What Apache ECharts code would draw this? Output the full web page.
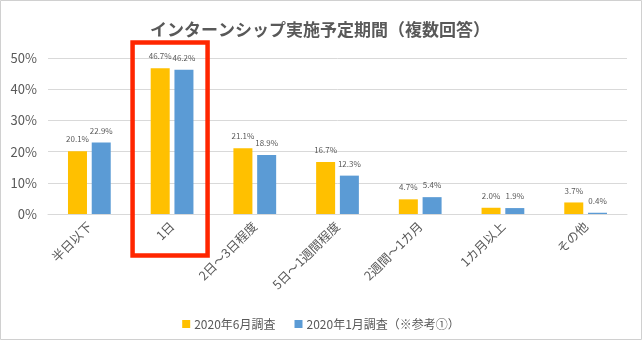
<!DOCTYPE html>
<html>
<head>
<meta charset="utf-8">
<script src="https://cdn.jsdelivr.net/npm/echarts@6/dist/echarts.min.js"></script>
<style>
html,body{margin:0;padding:0;background:#fff;}
#c{width:642px;height:340px;}
</style>
</head>
<body>
<div id="c"></div>
<script>
var categories = ['半日以下', '1日', '2日～3日程度', '5日～1週間程度', '2週間～1カ月', '1カ月以上', 'その他'];
var june2020 = [20.1, 46.7, 21.1, 16.7, 4.7, 2.0, 3.7];
var jan2020 = [22.9, 46.2, 18.9, 12.3, 5.4, 1.9, 0.4];
var seriesNames = ['2020年6月調査', '2020年1月調査（※参考①）'];
var highlightCategory = '1日';

var FONT = '"Noto Sans CJK JP", "Noto Sans", sans-serif';
var TXT = '#595959';

var chart = echarts.init(document.getElementById('c'), null, {renderer: 'canvas'});

function labelCfg() {
  return {
    show: true,
    position: 'top',
    distance: 8,
    fontSize: 8,
    color: TXT,
    fontFamily: FONT,
    formatter: function (p) { return p.value.toFixed(1) + '%'; }
  };
}

chart.setOption({
  animation: false,
  backgroundColor: '#fff',
  title: {
    text: 'インターンシップ実施予定期間（複数回答）',
    left: 315,
    textAlign: 'center',
    top: 16,
    textStyle: {fontSize: 17, fontWeight: 'bold', color: TXT, fontFamily: FONT}
  },
  legend: {
    data: seriesNames,
    left: 'center',
    top: 313,
    itemWidth: 8,
    itemHeight: 8,
    itemGap: 19,
    icon: 'rect',
    textStyle: {fontSize: 12, color: TXT, fontFamily: FONT, padding: [0, 0, 0, -1]}
  },
  grid: {left: 48, right: 15, top: 58, bottom: 126, containLabel: false},
  xAxis: {
    type: 'category',
    data: categories,
    axisLine: {show: true, lineStyle: {color: '#d9d9d9'}},
    axisTick: {show: false},
    axisLabel: {rotate: 45, fontSize: 12.5, color: TXT, fontFamily: FONT, margin: 10, interval: 0}
  },
  yAxis: {
    type: 'value',
    min: 0,
    max: 50,
    interval: 10,
    axisLine: {show: false},
    axisTick: {show: false},
    splitLine: {lineStyle: {color: '#d9d9d9', width: 1}},
    axisLabel: {formatter: '{value}%', fontSize: 13, color: TXT, fontFamily: FONT, margin: 11}
  },
  series: [
    {
      name: seriesNames[0],
      type: 'bar',
      data: june2020,
      barWidth: 19,
      barGap: '25%',
      itemStyle: {color: '#FFC000'},
      label: labelCfg()
    },
    {
      name: seriesNames[1],
      type: 'bar',
      data: jan2020,
      barWidth: 19,
      barGap: '25%',
      itemStyle: {color: '#5B9BD5'},
      label: labelCfg()
    }
  ]
});

// Annotation box around the highlighted category, placed from the axis scale
var cx = chart.convertToPixel({xAxisIndex: 0}, highlightCategory);
var yTop = chart.convertToPixel({yAxisIndex: 0}, 50);
chart.setOption({
  graphic: [
    {
      type: 'rect',
      silent: true,
      shape: {x: 0.5, y: 0.5, width: 641, height: 339},
      style: {fill: 'none', stroke: '#d0d0d0', lineWidth: 1},
      z: 0
    },
    {
      type: 'rect',
      silent: true,
      shape: {x: cx - 39.5, y: yTop - 15.5, width: 75, height: 213},
      style: {fill: 'none', stroke: '#FF2600', lineWidth: 4.5},
      z: 100
    }
  ]
});
</script>
</body>
</html>
